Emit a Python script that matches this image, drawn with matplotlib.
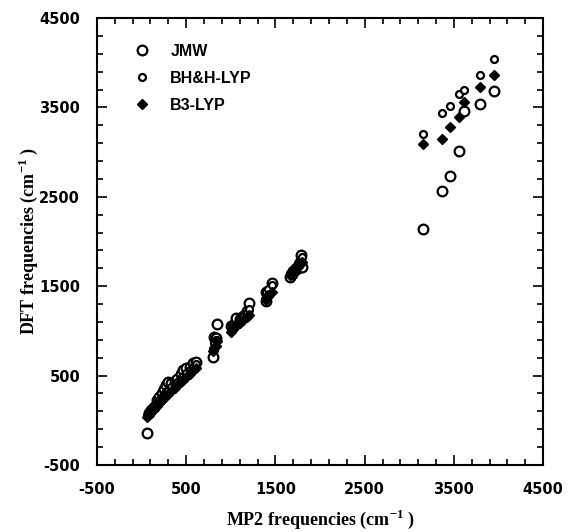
import matplotlib
matplotlib.use("Agg")
import matplotlib.pyplot as plt
from matplotlib.ticker import MultipleLocator, FixedLocator

plt.rcParams['axes.unicode_minus'] = False

mp2 = [60, 85, 110, 140, 170, 200, 230, 255, 280, 300, 330, 370, 400, 440, 470, 500, 540, 580, 610,
       800, 815, 835, 850,
       1000, 1030, 1060, 1100, 1140, 1180, 1200,
       1390, 1400, 1420, 1460,
       1660, 1690, 1720, 1750, 1770, 1790, 1800,
       3150, 3365, 3455, 3560, 3610, 3795, 3945]

jmw = [-146, 80, 110, 150, 230, 265, 300, 350, 400, 433, 420, 440, 459, 520, 563, 590, 600, 640, 653,
       705, 930, 925, 1075,
       1060, 1067, 1142, 1130, 1170, 1220, 1317,
       1340, 1437, 1410, 1534,
       1608, 1640, 1680, 1700, 1720, 1851, 1720,
       2142, 2560, 2728, 3011, 3455, 3541, 3679]

bhh = [55, 95, 120, 160, 190, 230, 260, 290, 320, 340, 370, 400, 430, 470, 500, 530, 560, 600, 630,
       800, 870, 900, 900,
       1010, 1050, 1080, 1120, 1160, 1200, 1240,
       1380, 1430, 1470, 1510,
       1650, 1680, 1720, 1760, 1780, 1800, 1830,
       3201, 3437, 3511, 3653, 3698, 3858, 4045]

b3 = [40, 75, 100, 130, 165, 195, 225, 250, 275, 295, 325, 360, 390, 425, 455, 485, 520, 560, 590,
      780, 806, 830, 888,
      990, 1020, 1050, 1090, 1120, 1160, 1180,
      1350, 1370, 1400, 1440,
      1620, 1650, 1690, 1720, 1740, 1760, 1770,
      3090, 3142, 3284, 3388, 3556, 3724, 3866]

ticks = [-500, 500, 1500, 2500, 3500, 4500]

fig = plt.figure(figsize=(5.73, 5.32), dpi=100)
ax = fig.add_axes([0.169, 0.126, 0.779, 0.840])

ax.plot(mp2, jmw, linestyle='none', marker='o', ms=7, mfc='white', mec='black', mew=1.6, label='JMW')
ax.plot(mp2, bhh, linestyle='none', marker='o', ms=5, mfc='white', mec='black', mew=1.6, label='BH&H-LYP')
ax.plot(mp2, b3, linestyle='none', marker='D', ms=5, mfc='black', mec='black', mew=1.0, label='B3-LYP')

ax.set_xlim(-500, 4500)
ax.set_ylim(-500, 4500)
ax.xaxis.set_major_locator(FixedLocator(ticks))
ax.yaxis.set_major_locator(FixedLocator(ticks))
ax.xaxis.set_minor_locator(MultipleLocator(200, offset=100))
ax.yaxis.set_minor_locator(MultipleLocator(200, offset=100))
ax.tick_params(which='both', direction='in', top=True, right=True, width=1.2)
ax.tick_params(which='major', length=7)
ax.tick_params(which='minor', length=4)
for s in ax.spines.values():
    s.set_linewidth(1.5)

for lab in ax.get_xticklabels() + ax.get_yticklabels():
    lab.set_fontfamily('DejaVu Sans')
    lab.set_fontweight('bold')
    lab.set_fontsize(10.5)
ax.tick_params(axis='x', pad=12)
ax.tick_params(axis='y', pad=12)

ax.set_xlabel(r'MP2 frequencies (cm$^{\mathregular{-1}}$ )', fontfamily='Liberation Serif',
              fontsize=13, fontweight='bold')
ax.set_ylabel(r'DFT frequencies (cm$^{\mathregular{-1}}$ )', fontfamily='Liberation Serif',
              fontsize=13, fontweight='bold')
ax.xaxis.set_label_coords(0.5, -0.095)
ax.yaxis.set_label_coords(-0.128, 0.5)

leg = ax.legend(loc='upper left', bbox_to_anchor=(0.05, 0.975), frameon=False,
                prop={'family': 'Liberation Sans', 'weight': 'bold', 'size': 11.5},
                labelspacing=0.75, handletextpad=1.3, borderaxespad=0.5, numpoints=1, handlelength=1.0)

fig.savefig('out.png', dpi=100)
